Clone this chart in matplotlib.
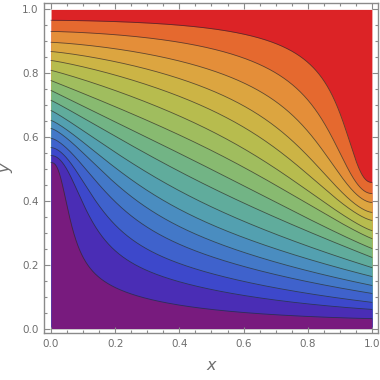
import numpy as np
import matplotlib
matplotlib.use("Agg")
import matplotlib.pyplot as plt
from matplotlib.ticker import MultipleLocator

# 16 contour lines, bottom to top
# height of each line where it meets x=0 and x=1
left_y = [0.520, 0.542, 0.567, 0.596, 0.627, 0.652, 0.683, 0.715,
          0.746, 0.777, 0.809, 0.840, 0.868, 0.897, 0.931, 0.966]
right_y = [0.031, 0.060, 0.082, 0.110, 0.135, 0.163, 0.191, 0.223,
           0.251, 0.282, 0.307, 0.339, 0.364, 0.395, 0.423, 0.458]
# x where each line is half way down, and how sharp the drop is before / after it
mid_x = [0.078, 0.15, 0.20, 0.25, 0.295, 0.34, 0.39, 0.445,
         0.50, 0.555, 0.61, 0.665, 0.72, 0.775, 0.83, 0.885]
sharp_before = [2.4, 2.0, 1.7, 1.45, 1.3, 1.2, 1.1, 1.05,
                1.0, 1.0, 1.05, 1.1, 1.15, 1.2, 1.3, 1.4]
sharp_after = [1.1, 1.05, 1.0, 1.0, 1.0, 1.0, 1.0, 1.0,
               1.05, 1.1, 1.2, 1.35, 1.5, 1.7, 1.95, 2.2]

# band colours, bottom to top (17 bands)
band_colors = ["#781b7e", "#4a2db5", "#3d48cb", "#3f62cc", "#4378c8", "#4a8dc0",
               "#53a0b0", "#60ac9c", "#72b485", "#88ba70", "#a0bd5e", "#b7bc4e",
               "#ccb445", "#dca540", "#e48e39", "#e5692f", "#dc2326"]

tick_color = "#6e6e6e"
frame_color = "#8a8a8a"

xs = np.linspace(0, 1, 1000)
xc = np.clip(xs, 1e-6, 1 - 1e-6)
lx = np.log(xc / (1 - xc))


def contour_line(k):
    lt = np.log(mid_x[k] / (1 - mid_x[k]))
    # sharpness changes smoothly across the midpoint, so no kink
    blend = 1 / (1 + np.exp(-(lx - lt) / 0.6))
    p = sharp_before[k] + (sharp_after[k] - sharp_before[k]) * blend
    w = 1 / (1 + np.exp(-p * (lx - lt)))
    w[0], w[-1] = 0.0, 1.0
    return left_y[k] - (left_y[k] - right_y[k]) * w


lines = [contour_line(k) for k in range(len(left_y))]

fig = plt.figure(figsize=(3.8, 3.8), dpi=100)
ax = fig.add_axes([0.1158, 0.1237, 0.8789, 0.8692])

# paint from the top band down so the bands leave no seams
ax.fill_between(xs, 0, 1, color=band_colors[-1], lw=0)
for k in range(len(lines) - 1, -1, -1):
    ax.fill_between(xs, 0, lines[k], color=band_colors[k], lw=0)
for ln in lines:
    ax.plot(xs, ln, color="#2a2a2a", lw=0.6, alpha=0.7)

ax.set_xlim(-0.022, 1.019)
ax.set_ylim(-0.014, 1.021)

ax.xaxis.set_major_locator(MultipleLocator(0.2))
ax.xaxis.set_minor_locator(MultipleLocator(0.05))
ax.yaxis.set_major_locator(MultipleLocator(0.2))
ax.yaxis.set_minor_locator(MultipleLocator(0.05))
ax.xaxis.set_major_formatter(plt.FormatStrFormatter("%.1f"))
ax.yaxis.set_major_formatter(plt.FormatStrFormatter("%.1f"))

ax.tick_params(which="both", direction="in", top=True, right=True,
               color=frame_color, labelcolor=tick_color, labelsize=7.5, width=0.8)
ax.tick_params(which="major", length=4, pad=4)
ax.tick_params(which="minor", length=2.3)

for sp in ax.spines.values():
    sp.set_color(frame_color)
    sp.set_linewidth(1.0)

ax.set_xlabel("x", fontsize=11.5, style="italic", color=tick_color, labelpad=7)
ax.set_ylabel("y", fontsize=11.5, style="italic", color=tick_color, labelpad=6)

fig.savefig("out.png", dpi=100)
